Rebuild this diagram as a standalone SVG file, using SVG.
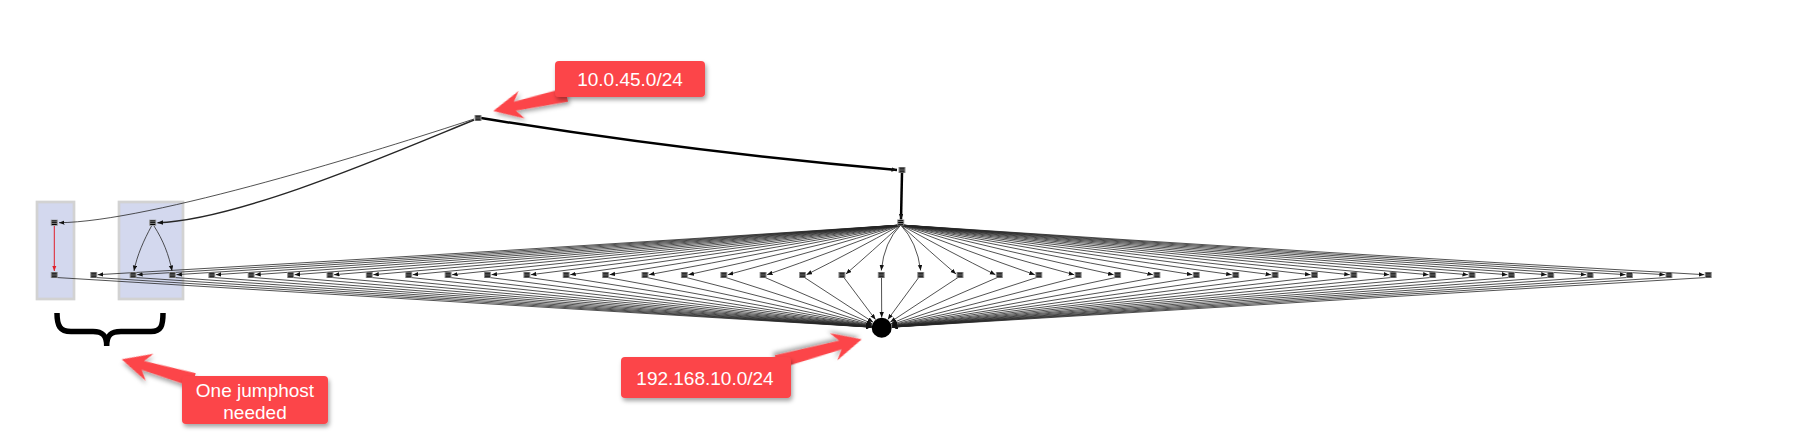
<svg xmlns="http://www.w3.org/2000/svg" width="1797" height="444" viewBox="0 0 1797 444">
<style>
.grp{fill:#d3d8ee;stroke:#d2d2d2;stroke-width:2.7}
.e{fill:none;stroke:#262626;stroke-width:0.8;marker-end:url(#ah)}
.thick{fill:none;stroke:#000;stroke-width:2.5;marker-end:url(#ah)}
.red{fill:none;stroke:#e0202a;stroke-width:1;marker-end:url(#ahr)}
.co{fill:#fc4548;filter:url(#sh)}
.ct{font-family:"Liberation Sans",Arial,sans-serif;font-size:19px;fill:#fff;text-anchor:middle}
</style>
<defs>
<filter id="sh" x="-20%" y="-30%" width="140%" height="170%">
<feDropShadow dx="1.5" dy="3" stdDeviation="2.2" flood-color="#000" flood-opacity="0.35"/>
</filter>
<marker id="ah" markerWidth="6" markerHeight="5" refX="5.5" refY="2.2" orient="auto" markerUnits="userSpaceOnUse"><path d="M0,0 L5.5,2.2 L0,4.4 z" fill="#111"/></marker>
<marker id="ahr" markerWidth="6" markerHeight="5" refX="5.5" refY="2.2" orient="auto" markerUnits="userSpaceOnUse"><path d="M0,0 L5.5,2.2 L0,4.4 z" fill="#e0202a"/></marker>
<g id="srv"><rect x="-3.5" y="-3" width="7" height="6" fill="#8e8e8e"/><path d="M-2.5,-1.8h5M-2.5,0h5M-2.5,1.8h5" stroke="#000" stroke-width="1"/></g>
</defs>

<g id="groups">
<rect id="group1" class="grp" x="37" y="202" width="37" height="97"/>
<rect id="group2" class="grp" x="119" y="202" width="64" height="97"/>
</g>

<g id="connectors">
<path class="thick" d="M481,118 Q690,152 897,170"/>
<path class="thick" d="M902,173 L901,219.5"/>
<path class="e" d="M474,119 C380,150 150,222 59,222.7"/>
<path class="e" style="stroke-width:1.4" d="M474,120 C400,150 240,220 157.5,222.7"/>
<path class="red" d="M54.3,226 L54.3,271"/>
<path class="e" d="M151.5,226 C144,240 137,255 134,271"/>
<path class="e" d="M154,226 C163,240 169,255 172,271"/>
<path class="e" d="M900.7,225 Q497.2,252 97.7,274.7"/>
<path class="e" d="M900.7,225 Q516.9,252 137.1,274.7"/>
<path class="e" d="M900.7,225 Q536.6,252 176.4,274.7"/>
<path class="e" d="M900.7,225 Q556.3,252 215.8,274.7"/>
<path class="e" d="M900.7,225 Q576,252 255.2,274.7"/>
<path class="e" d="M900.7,225 Q595.7,252 294.6,274.7"/>
<path class="e" d="M900.7,225 Q615.4,252 334,274.7"/>
<path class="e" d="M900.7,225 Q635,252 373.3,274.7"/>
<path class="e" d="M900.7,225 Q654.7,252 412.7,274.7"/>
<path class="e" d="M900.7,225 Q674.4,252 452.1,274.7"/>
<path class="e" d="M900.7,225 Q694.1,252 491.5,274.7"/>
<path class="e" d="M900.7,225 Q713.8,252 530.9,274.7"/>
<path class="e" d="M900.7,225 Q733.5,252 570.2,274.7"/>
<path class="e" d="M900.7,225 Q753.2,252 609.6,274.7"/>
<path class="e" d="M900.7,225 Q772.9,252 649,274.7"/>
<path class="e" d="M900.7,225 Q792.6,252 688.4,274.7"/>
<path class="e" d="M900.7,225 Q812.3,252 727.8,274.7"/>
<path class="e" d="M900.7,225 Q831.9,252 767.1,274.7"/>
<path class="e" d="M900.7,225 Q851.6,252 806.5,274.7"/>
<path class="e" d="M900.7,225 Q871.3,252 845.9,274"/>
<path class="e" d="M900.7,225 Q884,242 881.3,270.5"/>
<path class="e" d="M900.7,225 Q917,242 920.7,270.5"/>
<path class="e" d="M900.7,225 Q930.4,252 956,274"/>
<path class="e" d="M900.7,225 Q950.1,252 995.4,274.7"/>
<path class="e" d="M900.7,225 Q969.8,252 1034.8,274.7"/>
<path class="e" d="M900.7,225 Q989.5,252 1074.2,274.7"/>
<path class="e" d="M900.7,225 Q1009.2,252 1113.6,274.7"/>
<path class="e" d="M900.7,225 Q1028.8,252 1152.9,274.7"/>
<path class="e" d="M900.7,225 Q1048.5,252 1192.3,274.7"/>
<path class="e" d="M900.7,225 Q1068.2,252 1231.7,274.7"/>
<path class="e" d="M900.7,225 Q1087.9,252 1271.1,274.7"/>
<path class="e" d="M900.7,225 Q1107.6,252 1310.5,274.7"/>
<path class="e" d="M900.7,225 Q1127.3,252 1349.8,274.7"/>
<path class="e" d="M900.7,225 Q1147,252 1389.2,274.7"/>
<path class="e" d="M900.7,225 Q1166.7,252 1428.6,274.7"/>
<path class="e" d="M900.7,225 Q1186.4,252 1468,274.7"/>
<path class="e" d="M900.7,225 Q1206.1,252 1507.4,274.7"/>
<path class="e" d="M900.7,225 Q1225.7,252 1546.7,274.7"/>
<path class="e" d="M900.7,225 Q1245.4,252 1586.1,274.7"/>
<path class="e" d="M900.7,225 Q1265.1,252 1625.5,274.7"/>
<path class="e" d="M900.7,225 Q1284.8,252 1664.9,274.7"/>
<path class="e" d="M900.7,225 Q1304.5,252 1704.3,274.7"/>
<path class="e" d="M56.3,277.5 L871.4,327.2"/>
<path class="e" d="M95.7,277.5 L871.4,327.1"/>
<path class="e" d="M135.1,277.5 L871.4,327.1"/>
<path class="e" d="M174.4,277.5 L871.4,327.1"/>
<path class="e" d="M213.8,277.5 L871.4,327"/>
<path class="e" d="M253.2,277.5 L871.4,327"/>
<path class="e" d="M292.6,277.5 L871.4,326.9"/>
<path class="e" d="M332,277.5 L871.4,326.9"/>
<path class="e" d="M371.3,277.5 L871.4,326.8"/>
<path class="e" d="M410.7,277.5 L871.4,326.7"/>
<path class="e" d="M450.1,277.5 L871.5,326.6"/>
<path class="e" d="M489.5,277.5 L871.5,326.5"/>
<path class="e" d="M528.9,277.5 L871.5,326.3"/>
<path class="e" d="M568.2,277.5 L871.5,326.2"/>
<path class="e" d="M607.6,277.5 L871.6,325.9"/>
<path class="e" d="M647,277.5 L871.6,325.6"/>
<path class="e" d="M686.4,277.5 L871.7,325.2"/>
<path class="e" d="M725.8,277.5 L871.9,324.6"/>
<path class="e" d="M765.1,277.5 L872.2,323.7"/>
<path class="e" d="M804.5,277.5 L873.1,322.2"/>
<path class="e" d="M843.9,277.5 L875.5,319.6"/>
<path class="e" d="M881.5,278 L881.7,317.5"/>
<path class="e" d="M918.7,277.5 L887.8,319.5"/>
<path class="e" d="M958,277.5 L890.3,322.1"/>
<path class="e" d="M997.4,277.5 L891.1,323.7"/>
<path class="e" d="M1036.8,277.5 L891.5,324.6"/>
<path class="e" d="M1076.2,277.5 L891.7,325.2"/>
<path class="e" d="M1115.6,277.5 L891.8,325.6"/>
<path class="e" d="M1154.9,277.5 L891.8,325.9"/>
<path class="e" d="M1194.3,277.5 L891.9,326.2"/>
<path class="e" d="M1233.7,277.5 L891.9,326.3"/>
<path class="e" d="M1273.1,277.5 L892,326.5"/>
<path class="e" d="M1312.5,277.5 L892,326.6"/>
<path class="e" d="M1351.8,277.5 L892,326.7"/>
<path class="e" d="M1391.2,277.5 L892,326.8"/>
<path class="e" d="M1430.6,277.5 L892,326.9"/>
<path class="e" d="M1470,277.5 L892,326.9"/>
<path class="e" d="M1509.4,277.5 L892,327"/>
<path class="e" d="M1548.7,277.5 L892,327"/>
<path class="e" d="M1588.1,277.5 L892,327.1"/>
<path class="e" d="M1627.5,277.5 L892,327.1"/>
<path class="e" d="M1666.9,277.5 L892,327.1"/>
<path class="e" d="M1706.3,277.5 L892,327.2"/>
</g>

<g id="nodes">
<g id="n-top"><use href="#srv" x="478" y="118"/></g>
<g id="n-right"><use href="#srv" x="902" y="170"/></g>
<g id="n-hub"><use href="#srv" x="900.7" y="222.5"/></g>
<g id="n-g1a"><use href="#srv" x="54.3" y="222.7"/></g>
<g id="n-g2a"><use href="#srv" x="152.7" y="222.7"/></g>
<g id="n0"><use href="#srv" x="54.3" y="275"/></g>
<g id="n1"><use href="#srv" x="93.7" y="275"/></g>
<g id="n2"><use href="#srv" x="133.1" y="275"/></g>
<g id="n3"><use href="#srv" x="172.4" y="275"/></g>
<g id="n4"><use href="#srv" x="211.8" y="275"/></g>
<g id="n5"><use href="#srv" x="251.2" y="275"/></g>
<g id="n6"><use href="#srv" x="290.6" y="275"/></g>
<g id="n7"><use href="#srv" x="330" y="275"/></g>
<g id="n8"><use href="#srv" x="369.3" y="275"/></g>
<g id="n9"><use href="#srv" x="408.7" y="275"/></g>
<g id="n10"><use href="#srv" x="448.1" y="275"/></g>
<g id="n11"><use href="#srv" x="487.5" y="275"/></g>
<g id="n12"><use href="#srv" x="526.9" y="275"/></g>
<g id="n13"><use href="#srv" x="566.2" y="275"/></g>
<g id="n14"><use href="#srv" x="605.6" y="275"/></g>
<g id="n15"><use href="#srv" x="645" y="275"/></g>
<g id="n16"><use href="#srv" x="684.4" y="275"/></g>
<g id="n17"><use href="#srv" x="723.8" y="275"/></g>
<g id="n18"><use href="#srv" x="763.1" y="275"/></g>
<g id="n19"><use href="#srv" x="802.5" y="275"/></g>
<g id="n20"><use href="#srv" x="841.9" y="275"/></g>
<g id="n21"><use href="#srv" x="881.3" y="275"/></g>
<g id="n22"><use href="#srv" x="920.7" y="275"/></g>
<g id="n23"><use href="#srv" x="960" y="275"/></g>
<g id="n24"><use href="#srv" x="999.4" y="275"/></g>
<g id="n25"><use href="#srv" x="1038.8" y="275"/></g>
<g id="n26"><use href="#srv" x="1078.2" y="275"/></g>
<g id="n27"><use href="#srv" x="1117.6" y="275"/></g>
<g id="n28"><use href="#srv" x="1156.9" y="275"/></g>
<g id="n29"><use href="#srv" x="1196.3" y="275"/></g>
<g id="n30"><use href="#srv" x="1235.7" y="275"/></g>
<g id="n31"><use href="#srv" x="1275.1" y="275"/></g>
<g id="n32"><use href="#srv" x="1314.5" y="275"/></g>
<g id="n33"><use href="#srv" x="1353.8" y="275"/></g>
<g id="n34"><use href="#srv" x="1393.2" y="275"/></g>
<g id="n35"><use href="#srv" x="1432.6" y="275"/></g>
<g id="n36"><use href="#srv" x="1472" y="275"/></g>
<g id="n37"><use href="#srv" x="1511.4" y="275"/></g>
<g id="n38"><use href="#srv" x="1550.7" y="275"/></g>
<g id="n39"><use href="#srv" x="1590.1" y="275"/></g>
<g id="n40"><use href="#srv" x="1629.5" y="275"/></g>
<g id="n41"><use href="#srv" x="1668.9" y="275"/></g>
<g id="n42"><use href="#srv" x="1708.3" y="275"/></g>
<g id="n-subnet"><circle cx="881.7" cy="327.8" r="10" fill="#000"/></g>
</g>

<g id="brace">
<path d="M57,313 C57,326 60,331.5 71,331.5 L93,331.5 C102,331.5 106.7,335 106.7,346 C106.7,335 111,331.5 121,331.5 L151,331.5 C161,331.5 163,326 163,313" fill="none" stroke="#000" stroke-width="5.5"/>
</g>

<g id="callout1">
<polygon class="co" transform="translate(493.3,111) rotate(-12.5)" points="0,0 29,-14 22,-4.5 75,-7 75,7 22,4.5 29,14"/>
<rect class="co" x="555" y="61" width="150" height="36" rx="4"/>
<text class="ct" x="630" y="86">10.0.45.0/24</text>
</g>

<g id="callout2">
<polygon class="co" transform="translate(861.7,339.3) rotate(165)" points="0,0 29,-14 22,-4.5 88,-7 88,7 22,4.5 29,14"/>
<rect class="co" x="621" y="357" width="170" height="41" rx="4"/>
<text class="ct" x="705" y="385">192.168.10.0/24</text>
</g>

<g id="callout3">
<polygon class="co" transform="translate(121.7,359.3) rotate(16)" points="0,0 29,-14 22,-4.5 75,-7 75,7 22,4.5 29,14"/>
<rect class="co" x="182" y="376" width="146" height="48" rx="4"/>
<text class="ct" x="255" y="397">One jumphost</text>
<text class="ct" x="255" y="418.5">needed</text>
</g>
</svg>
